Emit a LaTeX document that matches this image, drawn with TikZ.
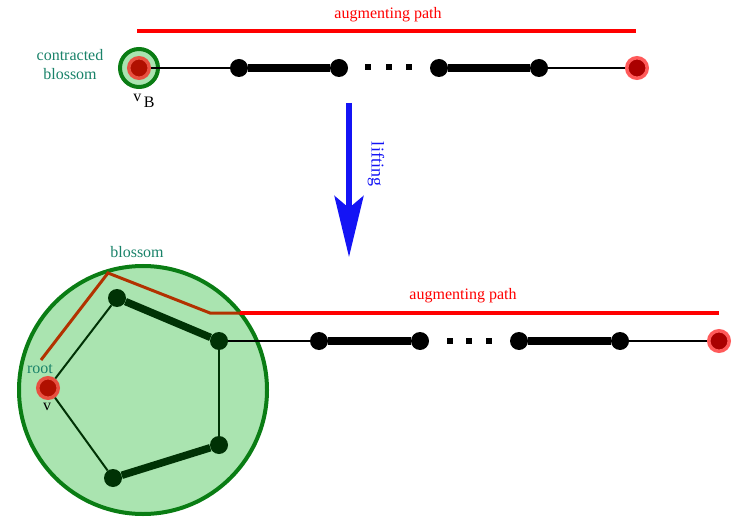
\documentclass[tikz,border=0pt]{standalone}
\usepackage{fontspec}
\setmainfont{Liberation Serif}
\usetikzlibrary{arrows.meta}
\definecolor{blossomfill}{RGB}{170,228,176}
\definecolor{blossomline}{RGB}{10,125,20}
\definecolor{darknode}{RGB}{0,50,5}
\definecolor{rootred}{RGB}{176,16,0}
\definecolor{rootring}{RGB}{232,80,64}
\definecolor{freered}{RGB}{170,0,0}
\definecolor{freering}{RGB}{255,90,90}
\definecolor{pathbrown}{RGB}{178,50,0}
\definecolor{labelteal}{RGB}{25,130,105}
\definecolor{liftblue}{RGB}{20,20,245}
\begin{document}
\begin{tikzpicture}[x=1pt,y=-1pt,
  font=\fontsize{16}{19}\selectfont,
  vtx/.style={circle,fill=black,inner sep=0pt,minimum size=18pt},
  bvtx/.style={circle,fill=darknode,inner sep=0pt,minimum size=18pt},
  rootv/.style={circle,fill=rootred,draw=rootring,line width=3.5pt,inner sep=0pt,minimum size=20.5pt},
  freev/.style={circle,fill=freered,draw=freering,line width=3.5pt,inner sep=0pt,minimum size=20.5pt},
  blossomdisc/.style={circle,draw=blossomline,fill=blossomfill,line width=4pt,inner sep=0pt},
  plainedge/.style={line width=2pt},
  matchedge/.style={line width=7.5pt},
  augline/.style={red,line width=3.5pt},
  stemline/.style={pathbrown,line width=3pt,line join=miter}]
\useasboundingbox (0,0) rectangle (743,526);

% contracted graph
\node[blossomdisc,minimum size=38pt] (cb) at (139,68) {};
\node[rootv] (vB) at (139,68) {};
\node[vtx] (a1) at (239,68) {};
\node[vtx] (a2) at (339,68) {};
\node[vtx] (a3) at (439,68) {};
\node[vtx] (a4) at (539,68) {};
\node[freev] (af) at (637,68) {};
\draw[plainedge] (vB) -- (a1);
\draw[matchedge] (a1) -- (a2);
\draw[matchedge] (a3) -- (a4);
\draw[plainedge] (a4) -- (af);
\foreach \x in {368,389,409}
  \fill (\x-3,64) rectangle (\x+3,70);
\coordinate (topL) at (137,31);
\coordinate (topR) at (636,31);
\draw[augline] (topL) -- (topR);
\node[text=red] (augtop) at (388,15) {augmenting path};
\node[text=labelteal,align=center] (cblabel) at (70,65) {contracted\\blossom};
\node (vBlabel) at (144,101) {v\raisebox{-6pt}{\,B}};

% lifting
\coordinate (liftTop) at (349,103);
\coordinate (liftTip) at (349,257);
\draw[liftblue,line width=5.5pt,-{Stealth[length=61pt,width=29pt,inset=12pt]}] (liftTop) -- (liftTip);
\node[rotate=-90,text=liftblue,font=\fontsize{18}{20}\selectfont] (lift) at (376,164) {lifting};

% expanded blossom
\node[blossomdisc,minimum size=248pt] (blossom) at (143,390) {};
\node[rootv] (v) at (48,388) {};
\node[bvtx] (b1) at (117,298) {};
\node[bvtx] (b2) at (219,341) {};
\node[bvtx] (b3) at (219,445) {};
\node[bvtx] (b4) at (113,478) {};
\draw[plainedge,darknode] (v) -- (b1);
\draw[matchedge,darknode] (b1) -- (b2);
\draw[plainedge,darknode] (b2) -- (b3);
\draw[matchedge,darknode] (b3) -- (b4);
\draw[plainedge,darknode] (b4) -- (v);
\node[vtx] (c1) at (319,341) {};
\node[vtx] (c2) at (420,341) {};
\node[vtx] (c3) at (519,341) {};
\node[vtx] (c4) at (620,341) {};
\node[freev] (cf) at (719,341) {};
\draw[plainedge] (b2) -- (c1);
\draw[matchedge] (c1) -- (c2);
\draw[matchedge] (c3) -- (c4);
\draw[plainedge] (c4) -- (cf);
\foreach \x in {450,469,489}
  \fill (\x-3,338) rectangle (\x+3,344);
\coordinate (s0) at (41,360);
\coordinate (s1) at (108,273);
\coordinate (s2) at (210,313);
\coordinate (s3) at (240,313);
\coordinate (botR) at (719,313);
\draw[stemline] (s0) -- (s1) -- (s2) -- (s3);
\draw[augline] (s3) -- (botR);
\node[text=red] (augbot) at (463,296) {augmenting path};
\node[text=labelteal] (blabel) at (137,252) {blossom};
\node[text=labelteal] (rootlabel) at (40,369) {root};
\node (vlabel) at (47,407) {v};
\end{tikzpicture}
\end{document}
